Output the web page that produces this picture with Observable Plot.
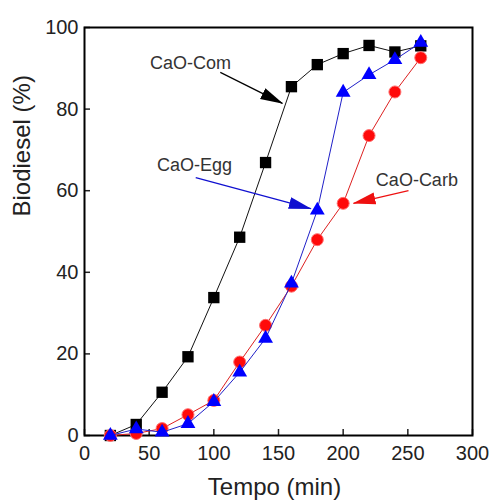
<!DOCTYPE html>
<html>
<head>
<meta charset="utf-8">
<script src="https://cdn.jsdelivr.net/npm/d3@7"></script>
<script src="https://cdn.jsdelivr.net/npm/@observablehq/plot@0.6"></script>
<style>
  html, body { margin: 0; padding: 0; background: #fff; }
  #chart { width: 490px; height: 502px; }
</style>
</head>
<body>
<div id="chart"></div>
<script>
// ---- data ----
const times = [20, 40, 60, 80, 100, 120, 140, 160, 180, 200, 220, 240, 260];
const caoCom  = [0, 2.7, 10.6, 19.3, 33.8, 48.6, 66.9, 85.5, 90.9, 93.6, 95.6, 94.0, 95.5];
const caoCarb = [0, 0.5, 1.7, 5.1, 8.6, 18.0, 27.0, 36.6, 48.0, 56.9, 73.5, 84.2, 92.6];
const caoEgg  = [0, 1.6, 0.8, 2.9, 8.3, 15.5, 23.8, 37.3, 55.2, 84.1, 88.4, 92.1, 96.3];

const xTicks = [0, 50, 100, 150, 200, 250, 300];
const yTicks = [0, 20, 40, 60, 80, 100];

// annotations (data units)
const annLabels = ["CaO-Com", "CaO-Egg", "CaO-Carb"];
const annTextX  = [82, 85, 257];
const annTextY  = [91.2, 66.2, 62.5];
const annFromX  = [105, 86, 250.5];
const annFromY  = [89, 63.2, 60];
const annToX    = [153, 175, 208];
const annToY    = [81.4, 55.6, 56.9];
const annColors = ["#000000", "#1010d0", "#ee1010"];

// ---- build ----
const toRows = (vals, series) => times.map((t, i) => ({t, v: vals[i], series}));
const com = toRows(caoCom, "com");
const carb = toRows(caoCarb, "carb");
const egg = toRows(caoEgg, "egg");
const ann = annLabels.map((label, i) => ({
  label, tx: annTextX[i], ty: annTextY[i],
  x1: annFromX[i], y1: annFromY[i], x2: annToX[i], y2: annToY[i], color: annColors[i]
}));

function headMarker(color, context) {
  const doc = (context && context.document) || document;
  const ns = "http://www.w3.org/2000/svg";
  const m = doc.createElementNS(ns, "marker");
  m.setAttribute("viewBox", "0 -6.5 23 13");
  m.setAttribute("markerWidth", "23");
  m.setAttribute("markerHeight", "13");
  m.setAttribute("refX", "22");
  m.setAttribute("refY", "0");
  m.setAttribute("orient", "auto");
  m.setAttribute("markerUnits", "userSpaceOnUse");
  const p = doc.createElementNS(ns, "path");
  p.setAttribute("d", "M0,-6L23,0L0,6Z");
  p.setAttribute("fill", color);
  p.setAttribute("stroke", "none");
  m.appendChild(p);
  return m;
}

const font = "'Liberation Sans', Arial, sans-serif";

const plot = Plot.plot({
  width: 490,
  height: 502,
  marginLeft: 84,
  marginRight: 18,
  marginTop: 27,
  marginBottom: 67,
  style: { fontFamily: font, color: "#222", background: "#fff" },
  x: { domain: [0, 300], label: null },
  y: { domain: [0, 100], label: null },
  marks: [
    Plot.axisX({ ticks: xTicks, tickSize: -6, tickPadding: 16, fontSize: 20, label: null, strokeWidth: 1.5 }),
    Plot.axisY({ ticks: yTicks, tickSize: -6, tickPadding: 12, fontSize: 20, label: null, strokeWidth: 1.5 }),
    Plot.frame({ stroke: "black", strokeWidth: 2 }),
    Plot.text(["Tempo (min)"], { frameAnchor: "bottom", dy: 59, dx: -4, fontSize: 24, fill: "#222" }),
    Plot.text(["Biodiesel (%)"], { frameAnchor: "left", rotate: -90, dx: -62, dy: -15, fontSize: 24, fill: "#222" }),
    // series
    Plot.line(com, { x: "t", y: "v", stroke: "#111", strokeWidth: 1 }),
    Plot.dot(com, { x: "t", y: "v", symbol: "square", r: 6.4, fill: "#000", stroke: "none" }),
    Plot.line(carb, { x: "t", y: "v", stroke: "#dd2020", strokeWidth: 1 }),
    Plot.dot(carb, { x: "t", y: "v", symbol: "circle", r: 6, fill: "#ff0a0a", stroke: "#ff7070", strokeWidth: 1 }),
    Plot.line(egg, { x: "t", y: "v", stroke: "#2020c8", strokeWidth: 1 }),
    Plot.dot(egg, { x: "t", y: "v", symbol: "triangle", r: 5.5, fill: "#0000ff", stroke: "none" }),
    // annotations
    Plot.link(ann, { x1: "x1", y1: "y1", x2: "x2", y2: "y2", stroke: "color", strokeWidth: 1.2, markerEnd: headMarker }),
    Plot.text(ann, { x: "tx", y: "ty", text: "label", fontSize: 18, fill: "#333" })
  ]
});
document.getElementById("chart").appendChild(plot);
</script>
</body>
</html>
